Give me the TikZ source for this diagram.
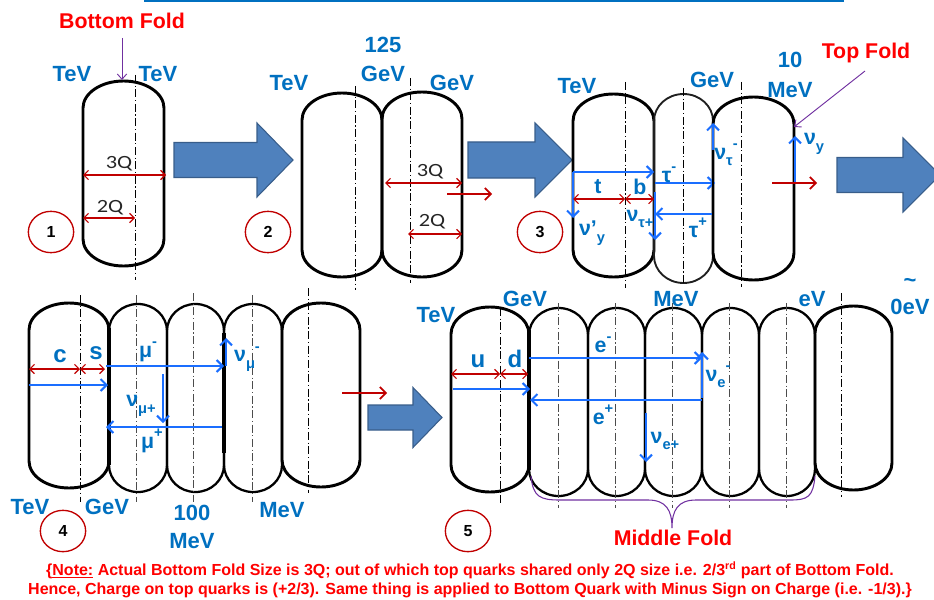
\documentclass[tikz,border=0pt]{standalone}
\usepackage{fontspec}
\setmainfont{Liberation Sans}
\newfontfamily\calfont{Carlito}
\usetikzlibrary{arrows.meta,shapes.geometric}
\definecolor{eblue}{HTML}{0070C0}
\definecolor{ablue}{HTML}{1A6EFF}
\definecolor{dred}{HTML}{C00000}
\definecolor{bfill}{HTML}{4F81BD}
\definecolor{bdraw}{HTML}{385D8A}
\definecolor{purp}{HTML}{7030A0}
\newcommand\sub[1]{\raisebox{-0.3em}{\fontsize{11}{11}\selectfont #1}}
\newcommand\sups[1]{\raisebox{0.5em}{\fontsize{11}{11}\selectfont #1}}
\newcommand\qtext[1]{\scalebox{1.2}[1]{#1}}
% capsule: [style]{x0}{x1}{ytop}{ybot}
\newcommand\capsule[5][]{%
 \draw[caps,#1] (#2,#4+27) .. controls (#2,#4+12.1) and ({#2+0.448*(#3-#2)/2},#4) .. ({(#2+#3)/2},#4)
  .. controls ({#3-0.448*(#3-#2)/2},#4) and (#3,#4+12.1) .. (#3,#4+27)
  -- (#3,#5-27) .. controls (#3,#5-12.1) and ({#3-0.448*(#3-#2)/2},#5) .. ({(#2+#3)/2},#5)
  .. controls ({#2+0.448*(#3-#2)/2},#5) and (#2,#5-12.1) .. (#2,#5-27) -- cycle;}
% big arrow: {x0}{xhead}{xtip}{yc}{shaft half}{head half}
\newcommand\bigarrow[6]{%
 \fill[bfill,draw=bdraw,line width=0.8pt] (#1,#4-#5) -- (#2,#4-#5) -- (#2,#4-#6) -- (#3,#4)
  -- (#2,#4+#6) -- (#2,#4+#5) -- (#1,#4+#5) -- cycle;}
\tikzset{
 caps/.style={line width=2.2pt,black},
 thincaps/.style={line width=1.4pt,black!88},
 midcaps/.style={line width=1.7pt},
 axisline/.style={line width=0.6pt,black,dash pattern=on 6pt off 2pt on 0.8pt off 2pt},
 dimarr/.style={dred,line width=0.8pt,{Straight Barb[length=3.5pt,width=7pt]}-{Straight Barb[length=3.5pt,width=7pt]}},
 redarr/.style={dred,line width=1.3pt,-{Straight Barb[length=4.5pt,width=9pt]}},
 barr/.style={ablue,line width=1.5pt,-{Straight Barb[length=4.5pt,width=9pt]}},
 parr/.style={purp,line width=0.7pt,-{Straight Barb[length=4pt,width=7pt]}},
 elab/.style={text=eblue,font=\bfseries\fontsize{16.5}{17}\selectfont,inner sep=0pt},
 plab/.style={text=eblue,font=\bfseries\fontsize{16}{16}\selectfont,inner sep=0pt},
 fold/.style={text=red,font=\bfseries\fontsize{16}{17}\selectfont,inner sep=0pt},
 qlab/.style={text=black!85,font=\calfont\fontsize{14}{14}\selectfont,inner sep=0pt},
 stepnum/.style={ellipse,draw=dred,line width=1pt,minimum width=34pt,minimum height=31pt,inner sep=0pt,font=\bfseries\fontsize{12}{12}\selectfont},
 note/.style={text=red,font=\bfseries\fontsize{12}{12}\selectfont,inner sep=0pt,anchor=base}
}
\begin{document}
\begin{tikzpicture}[x=0.75pt,y=-0.75pt]
\useasboundingbox (0,0) rectangle (934,599);
\draw[eblue,line width=1.5pt] (144,1) coordinate (tl0) -- (844,1) coordinate (tl1);
%% ---------------- panel 1
\capsule{83}{164}{81}{266}
\draw[axisline] (135,75) -- (135,280);
\node[fold] (bf) at (122,21) {Bottom Fold};
\coordinate (bfs) at (122,38);
\coordinate (bft) at (122,80);
\draw[parr] (bfs) -- (bft);
\node[elab] (tev1a) at (72,74) {TeV};
\node[elab] (tev1b) at (158,74) {TeV};
\coordinate (p1l) at (83,175); \coordinate (p1r) at (166,175);
\draw[dimarr] (p1l) -- (p1r);
\node[qlab] (q3a) at (119,164) {\qtext{3Q}};
\coordinate (p1l2) at (83,218); \coordinate (p1m2) at (135,218);
\draw[dimarr] (p1l2) -- (p1m2);
\node[qlab] (q2a) at (110,208) {\qtext{2Q}};
\node[stepnum] (n1) at (51,232) {1};
\bigarrow{174}{257}{293}{160}{17.5}{37}
%% ---------------- panel 2
\capsule{302}{382}{93}{277}
\capsule{382}{462}{92}{277}
\draw[axisline] (355,86) -- (355,290);
\draw[axisline] (410,78) -- (410,283);
\node[elab] (tev2) at (289,83) {TeV};
\node[elab] (h125) at (383,45) {125};
\node[elab] (gev2a) at (383,74) {GeV};
\node[elab] (gev2b) at (452,83) {GeV};
\coordinate (p2a) at (385,183); \coordinate (p2b) at (462,183);
\draw[dimarr] (p2a) -- (p2b);
\node[qlab] (q3b) at (430,172) {\qtext{3Q}};
\coordinate (p2c) at (408,234); \coordinate (p2d) at (462,234);
\draw[dimarr] (p2c) -- (p2d);
\node[qlab] (q2b) at (432,222) {\qtext{2Q}};
\coordinate (r2a) at (447,194); \coordinate (r2b) at (492,194);
\draw[redarr] (r2a) -- (r2b);
\node[stepnum] (n2) at (268,232) {2};
\bigarrow{468}{535}{572}{160}{18}{37}
%% ---------------- panel 3
\capsule{573}{654}{94}{277}
\capsule[thincaps]{654}{713}{94}{283}
\capsule{713}{794}{97}{280}
\draw[axisline] (625,82) -- (625,288);
\draw[axisline] (683,88) -- (683,283);
\draw[axisline] (741,82) -- (741,287);
\node[elab] (tev3) at (577,86) {TeV};
\node[elab] (gev3) at (712,80) {GeV};
\node[elab] (ten) at (790,60) {10};
\node[elab] (mev3) at (790,90) {MeV};
\node[fold] (tf) at (866,53) {Top Fold};
\coordinate (tfs) at (865,71);
\coordinate (tft) at (794,127);
\draw[parr] (tfs) -- (tft);
\coordinate (t0) at (573,172); \coordinate (t1) at (654,172);
\draw[barr] (t0) -- (t1);
\coordinate (t2) at (573,218);
\draw[barr] (t0) -- (t2);
\coordinate (tm0) at (655,183); \coordinate (tm1) at (715,183);
\draw[barr] (tm0) -- (tm1);
\coordinate (nt0) at (655,192); \coordinate (nt1) at (655,240);
\draw[barr] (nt0) -- (nt1);
\coordinate (tp0) at (713,214); \coordinate (tp1) at (655,214);
\draw[barr] (tp0) -- (tp1);
\coordinate (ntm0) at (713,183); \coordinate (ntm1) at (713,123);
\draw[barr] (ntm0) -- (ntm1);
\coordinate (ny0) at (795,183); \coordinate (ny1) at (795,136);
\draw[barr] (ny0) -- (ny1);
\draw[black,line width=2.2pt] (713,150) -- (713,250);
\coordinate (d3a) at (573,199); \coordinate (d3b) at (625,199); \coordinate (d3c) at (654,199);
\draw[dimarr] (d3a) -- (d3b);
\draw[dimarr] (d3b) -- (d3c);
\coordinate (r3a) at (772,183); \coordinate (r3b) at (817,183);
\draw[redarr] (r3a) -- (r3b);
\node[plab] (lt) at (598,187) {t};
\node[plab] (lb) at (640,187) {b};
\node[plab] (lnyp) at (592,233) {ν’\sub{y}};
\node[plab] (ltm) at (669,175) {τ\sups{-}};
\node[plab] (lntp) at (640,219) {ν\sub{τ+}};
\node[plab] (ltp) at (698,228) {τ\sups{+}};
\node[plab] (lntm) at (726,155) {ν\sub{τ}\sups{-}};
\node[plab] (lny) at (814,144) {ν\sub{y}};
\node[stepnum] (n3) at (540,232) {3};
\bigarrow{837}{903}{940}{175}{17.5}{37}
%% ---------------- panel 4
\capsule{29}{109}{303}{488}
\capsule[midcaps]{109}{167}{304}{492}
\capsule[midcaps]{167}{224}{304}{492}
\capsule[midcaps]{224}{282}{304}{492}
\capsule{282}{360}{303}{487}
\draw[black,line width=2.6pt] (109,328) -- (109,465);
\draw[black,line width=2.6pt] (224,333) -- (224,453);
\draw[axisline] (80,295) -- (80,502);
\draw[axisline,black!70] (136,295) -- (136,502);
\draw[axisline,black!70] (193,293) -- (193,502);
\draw[axisline,black!70] (252,295) -- (252,502);
\draw[axisline] (308,288) -- (308,493);
\coordinate (d4a) at (29,369); \coordinate (d4b) at (80,369); \coordinate (d4c) at (105,369);
\draw[dimarr] (d4a) -- (d4b);
\draw[dimarr] (d4b) -- (d4c);
\coordinate (b4a) at (29,385); \coordinate (b4b) at (108,385);
\draw[barr] (b4a) -- (b4b);
\coordinate (mm0) at (106,366); \coordinate (mm1) at (224,366);
\draw[barr] (mm0) -- (mm1);
\coordinate (nmm0) at (226,366); \coordinate (nmm1) at (226,338);
\draw[barr] (nmm0) -- (nmm1);
\coordinate (nmp0) at (163,374); \coordinate (nmp1) at (163,423);
\draw[barr] (nmp0) -- (nmp1);
\coordinate (mp0) at (222,427); \coordinate (mp1) at (106,427);
\draw[barr] (mp0) -- (mp1);
\coordinate (r4a) at (342,393); \coordinate (r4b) at (387,393);
\draw[redarr] (r4a) -- (r4b);
\node[plab,font=\bfseries\fontsize{18}{18}\selectfont] (lc) at (60,356) {c};
\node[plab,font=\bfseries\fontsize{18}{18}\selectfont] (ls) at (96,353) {s};
\node[plab] (lmm) at (148,352) {μ\sups{-}};
\node[plab] (lnmm) at (247,359) {ν\sub{μ}\sups{-}};
\node[plab] (lnmp) at (141,406) {ν\sub{μ+}};
\node[plab] (lmp) at (152,441) {μ\sups{+}};
\node[elab] (tev4) at (30,507) {TeV};
\node[elab] (gev4) at (107,507) {GeV};
\node[elab] (h100) at (192,513) {100};
\node[elab] (mev4a) at (192,541) {MeV};
\node[elab] (mev4b) at (282,510) {MeV};
\node[stepnum] (n4) at (63,531) {4};
\bigarrow{368}{413}{442}{417.5}{12.5}{30}
%% ---------------- panel 5
\capsule{451}{529}{307}{492}
\capsule[midcaps]{529}{588}{308}{496}
\capsule[midcaps]{588}{645}{308}{496}
\capsule[midcaps]{645}{702}{308}{496}
\capsule[midcaps]{702}{759}{308}{496}
\capsule[midcaps]{759}{815}{308}{496}
\capsule{815}{892}{306}{490}
\draw[black,line width=2.6pt] (529,330) -- (529,470);
\draw[axisline] (500,308) -- (500,505);
\foreach \xx in {558,615,672,729,786} \draw[axisline,black!70] (\xx,303) -- (\xx,508);
\draw[axisline] (841,293) -- (841,497);
\coordinate (d5a) at (451,374); \coordinate (d5b) at (500,374); \coordinate (d5c) at (528,374);
\draw[dimarr] (d5a) -- (d5b);
\draw[dimarr] (d5b) -- (d5c);
\coordinate (b5a) at (453,389); \coordinate (b5b) at (530,389);
\draw[barr] (b5a) -- (b5b);
\coordinate (em0) at (529,358); \coordinate (em1) at (702,358);
\draw[barr] (em0) -- (em1);
\coordinate (nem0) at (702,398); \coordinate (nem1) at (702,352);
\draw[barr] (nem0) -- (nem1);
\coordinate (ep0) at (702,400); \coordinate (ep1) at (530,400);
\draw[barr] (ep0) -- (ep1);
\coordinate (nep0) at (646,413); \coordinate (nep1) at (646,462);
\draw[barr] (nep0) -- (nep1);
\node[plab,font=\bfseries\fontsize{18}{18}\selectfont] (lu) at (478,361) {u};
\node[plab,font=\bfseries\fontsize{18}{18}\selectfont] (ld) at (515,359) {d};
\node[plab] (lem) at (603,345) {e\sups{-}};
\node[plab] (lnem) at (718,377) {ν\sub{e}\sups{-}};
\node[plab] (lep) at (603,415) {e\sups{+}};
\node[plab] (lnep) at (665,441) {ν\sub{e+}};
\node[elab] (tev5) at (436,315) {TeV};
\node[elab] (gev5) at (525,299) {GeV};
\node[elab] (mev5) at (676,299) {MeV};
\node[elab] (ev5) at (812,299) {eV};
\node[elab] (zev) at (910,307) {0eV};
\node[elab] (tld) at (910,283) {\char"007E};
\draw[purp,line width=0.8pt] (531,476) coordinate (brl) .. controls (533,497) and (540,500) .. (560,500)
  -- (648,500) .. controls (666,500) and (672,510) .. (672,528) coordinate (brt)
  .. controls (672,510) and (678,500) .. (696,500) -- (790,500)
  .. controls (808,500) and (813,497) .. (815,476) coordinate (brr);
\node[fold] (mf) at (673,538) {Middle Fold};
\node[stepnum] (n5) at (468,531) {5};
%% ---------------- note
\node[note] (note1) at (470,575) {\{\underline{Note:} Actual Bottom Fold Size is 3Q; out of which top quarks shared only 2Q size i.e. 2/3\textsuperscript{rd} part of Bottom Fold.};
\node[note] (note2) at (470,594) {Hence, Charge on top quarks is (+2/3). Same thing is applied to Bottom Quark with Minus Sign on Charge (i.e. -1/3).\}};
\end{tikzpicture}
\end{document}
